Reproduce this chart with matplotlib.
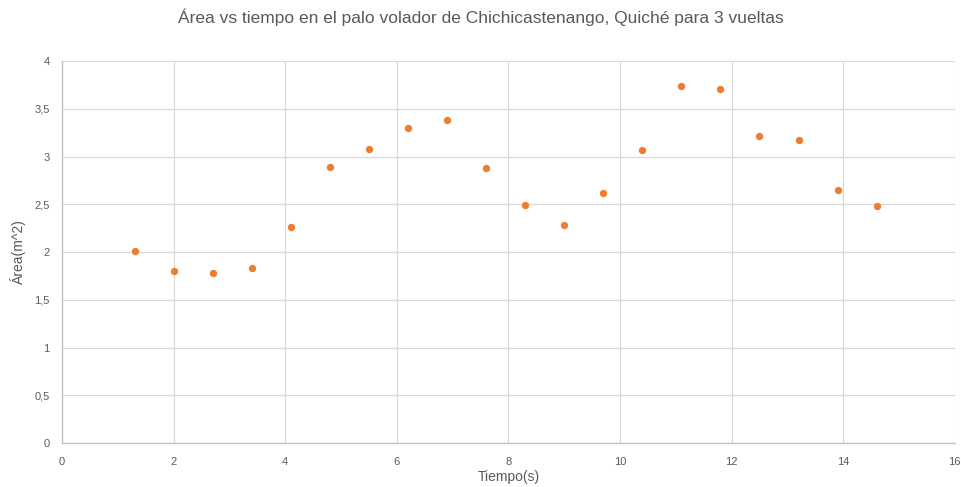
import matplotlib.pyplot as plt
from matplotlib.ticker import FuncFormatter, MultipleLocator

# datos
tiempo = [1.3, 2.0, 2.7, 3.4, 4.1, 4.8, 5.5, 6.2, 6.9, 7.6,
          8.3, 9.0, 9.7, 10.4, 11.1, 11.8, 12.5, 13.2, 13.9, 14.6]
area = [2.01, 1.80, 1.78, 1.83, 2.26, 2.89, 3.08, 3.30, 3.38, 2.88,
        2.49, 2.28, 2.62, 3.07, 3.74, 3.71, 3.22, 3.17, 2.65, 2.48]

titulo = "Área vs tiempo en el palo volador de Chichicastenango, Quiché para 3 vueltas"

plt.rcParams['font.family'] = ['Liberation Sans', 'DejaVu Sans']

fig = plt.figure(figsize=(9.62, 4.87), dpi=100)
ax = fig.add_axes([0.0645, 0.0903, 0.928, 0.7844])

ax.scatter(tiempo, area, s=28, color='#ED7D31', zorder=3, linewidths=0)

ax.set_xlim(0, 16)
ax.set_ylim(0, 4)
ax.xaxis.set_major_locator(MultipleLocator(2))
ax.yaxis.set_major_locator(MultipleLocator(0.5))

def coma(v, pos):
    s = ('%g' % v)
    return s.replace('.', ',')

ax.xaxis.set_major_formatter(FuncFormatter(coma))
ax.yaxis.set_major_formatter(FuncFormatter(coma))

ax.grid(True, color='#d9d9d9', linewidth=0.9, zorder=0)
ax.set_axisbelow(True)
for lado in ['top', 'right']:
    ax.spines[lado].set_visible(False)
for lado in ['left', 'bottom']:
    ax.spines[lado].set_color('#bfbfbf')
    ax.spines[lado].set_linewidth(0.9)

ax.tick_params(axis='x', length=0, labelsize=8, colors='#595959', pad=10)
ax.tick_params(axis='y', length=0, labelsize=8, colors='#595959', pad=9)

ax.set_xlabel("Tiempo(s)", fontsize=10, color='#595959', labelpad=2)
ax.set_ylabel("Área(m^2)", fontsize=10, color='#595959', labelpad=6)

fig.text(0.5, 0.965, titulo, ha='center', va='center', fontsize=12.5,
         color='#595959')

fig.savefig('out.png', dpi=100)
